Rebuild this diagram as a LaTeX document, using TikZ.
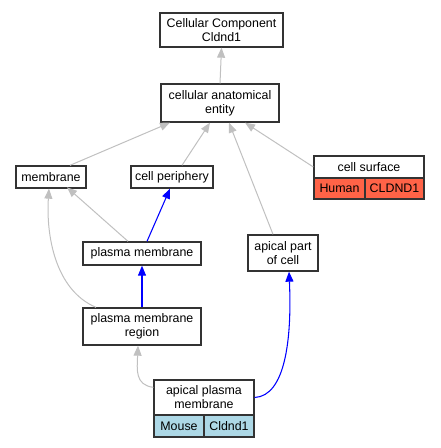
\documentclass[tikz,border=0pt]{standalone}
\usepackage{fontspec}
\setmainfont{Liberation Sans}
\usetikzlibrary{arrows.meta,calc}
\definecolor{edgegray}{HTML}{C0C0C0}
\definecolor{boxline}{HTML}{333333}
\definecolor{human}{HTML}{FF6347}
\definecolor{mouse}{HTML}{ADD8E6}
\tikzset{
  box/.style={draw=boxline, line width=1pt, fill=white, inner sep=0pt, align=center,
    font=\fontsize{9.3}{10.5}\selectfont},
  grayedge/.style={draw=edgegray, line width=0.75pt, -{Triangle[length=7.5pt,width=6pt]}},
  blueedge/.style={draw=blue, line width=0.8pt, -{Triangle[length=7.5pt,width=6pt]}}
}
\begin{document}
\begin{tikzpicture}[x=0.75pt,y=-0.75pt]
\useasboundingbox (0,0) rectangle (440,448);
\node[box, minimum width=92.25pt, minimum height=25.5pt] (ccc) at (221.5,30) {Cellular Component\\Cldnd1};
\node[box, minimum width=88.5pt, minimum height=28.5pt] (cae) at (220,103) {cellular anatomical\\entity};
\node[box, minimum width=52.5pt, minimum height=16.5pt] (mem) at (51,177) {membrane};
\node[box, minimum width=61.5pt, minimum height=16.5pt] (per) at (172,177) {cell periphery};
\node[box, minimum width=82.5pt, minimum height=16.5pt] (cs) at (369,167) {cell surface};
\node[box, fill=human, minimum width=38.25pt, minimum height=15.75pt] (csh) at (339.5,188.5) {Human};
\node[box, fill=human, minimum width=44.25pt, minimum height=15.75pt] (csg) at (394.5,188.5) {CLDND1};
\node[box, minimum width=88.5pt, minimum height=17.25pt] (pm) at (142,253.5) {plasma membrane};
\node[box, minimum width=52.5pt, minimum height=27pt] (apc) at (283,253) {apical part\\of cell};
\node[box, minimum width=88.5pt, minimum height=27.75pt] (pmr) at (142,326.5) {plasma membrane\\region};
\node[box, minimum width=75pt, minimum height=26.25pt] (apm) at (204,397.5) {apical plasma\\membrane};
\node[box, fill=mouse, minimum width=37.5pt, minimum height=16.5pt] (apmm) at (179,426) {Mouse};
\node[box, fill=mouse, minimum width=37.5pt, minimum height=16.5pt] (apmg) at (229,426) {Cldnd1};
% edges
\draw[grayedge] (cae.north) -- (ccc.south);
\draw[grayedge] ($(mem.north)+(19,0)$) -- ($(cae.south)+(-50,0)$);
\draw[grayedge] ($(per.north)+(10,0)$) -- ($(cae.south)+(-10,0)$);
\draw[grayedge] ($(apc.north)+(-10,0)$) -- ($(cae.south)+(9,0)$);
\draw[grayedge] (cs.west) -- ($(cae.south)+(25,0)$);
\draw[grayedge] ($(pm.north)+(-14,0)$) -- ($(mem.north)+(16,22)$);
\draw[blueedge] ($(pm.north)+(5,0)$) -- ($(per.south)+(-2,0)$);
\draw[blueedge] (pmr.north) -- (pm.south);
\draw[grayedge] ($(pmr.north)+(-46,0)$) .. controls (55,290) and (46,235) .. ($(mem.south)+(-2,0)$);
\draw[grayedge] ($(apm.north west)+(0,8)$) .. controls (135,385) and (137,370) .. ($(pmr.south)+(-4,0)$);
\draw[blueedge] (apm.east) .. controls (285,396) and (292,340) .. ($(apc.south)+(6,0)$);
\end{tikzpicture}
\end{document}
